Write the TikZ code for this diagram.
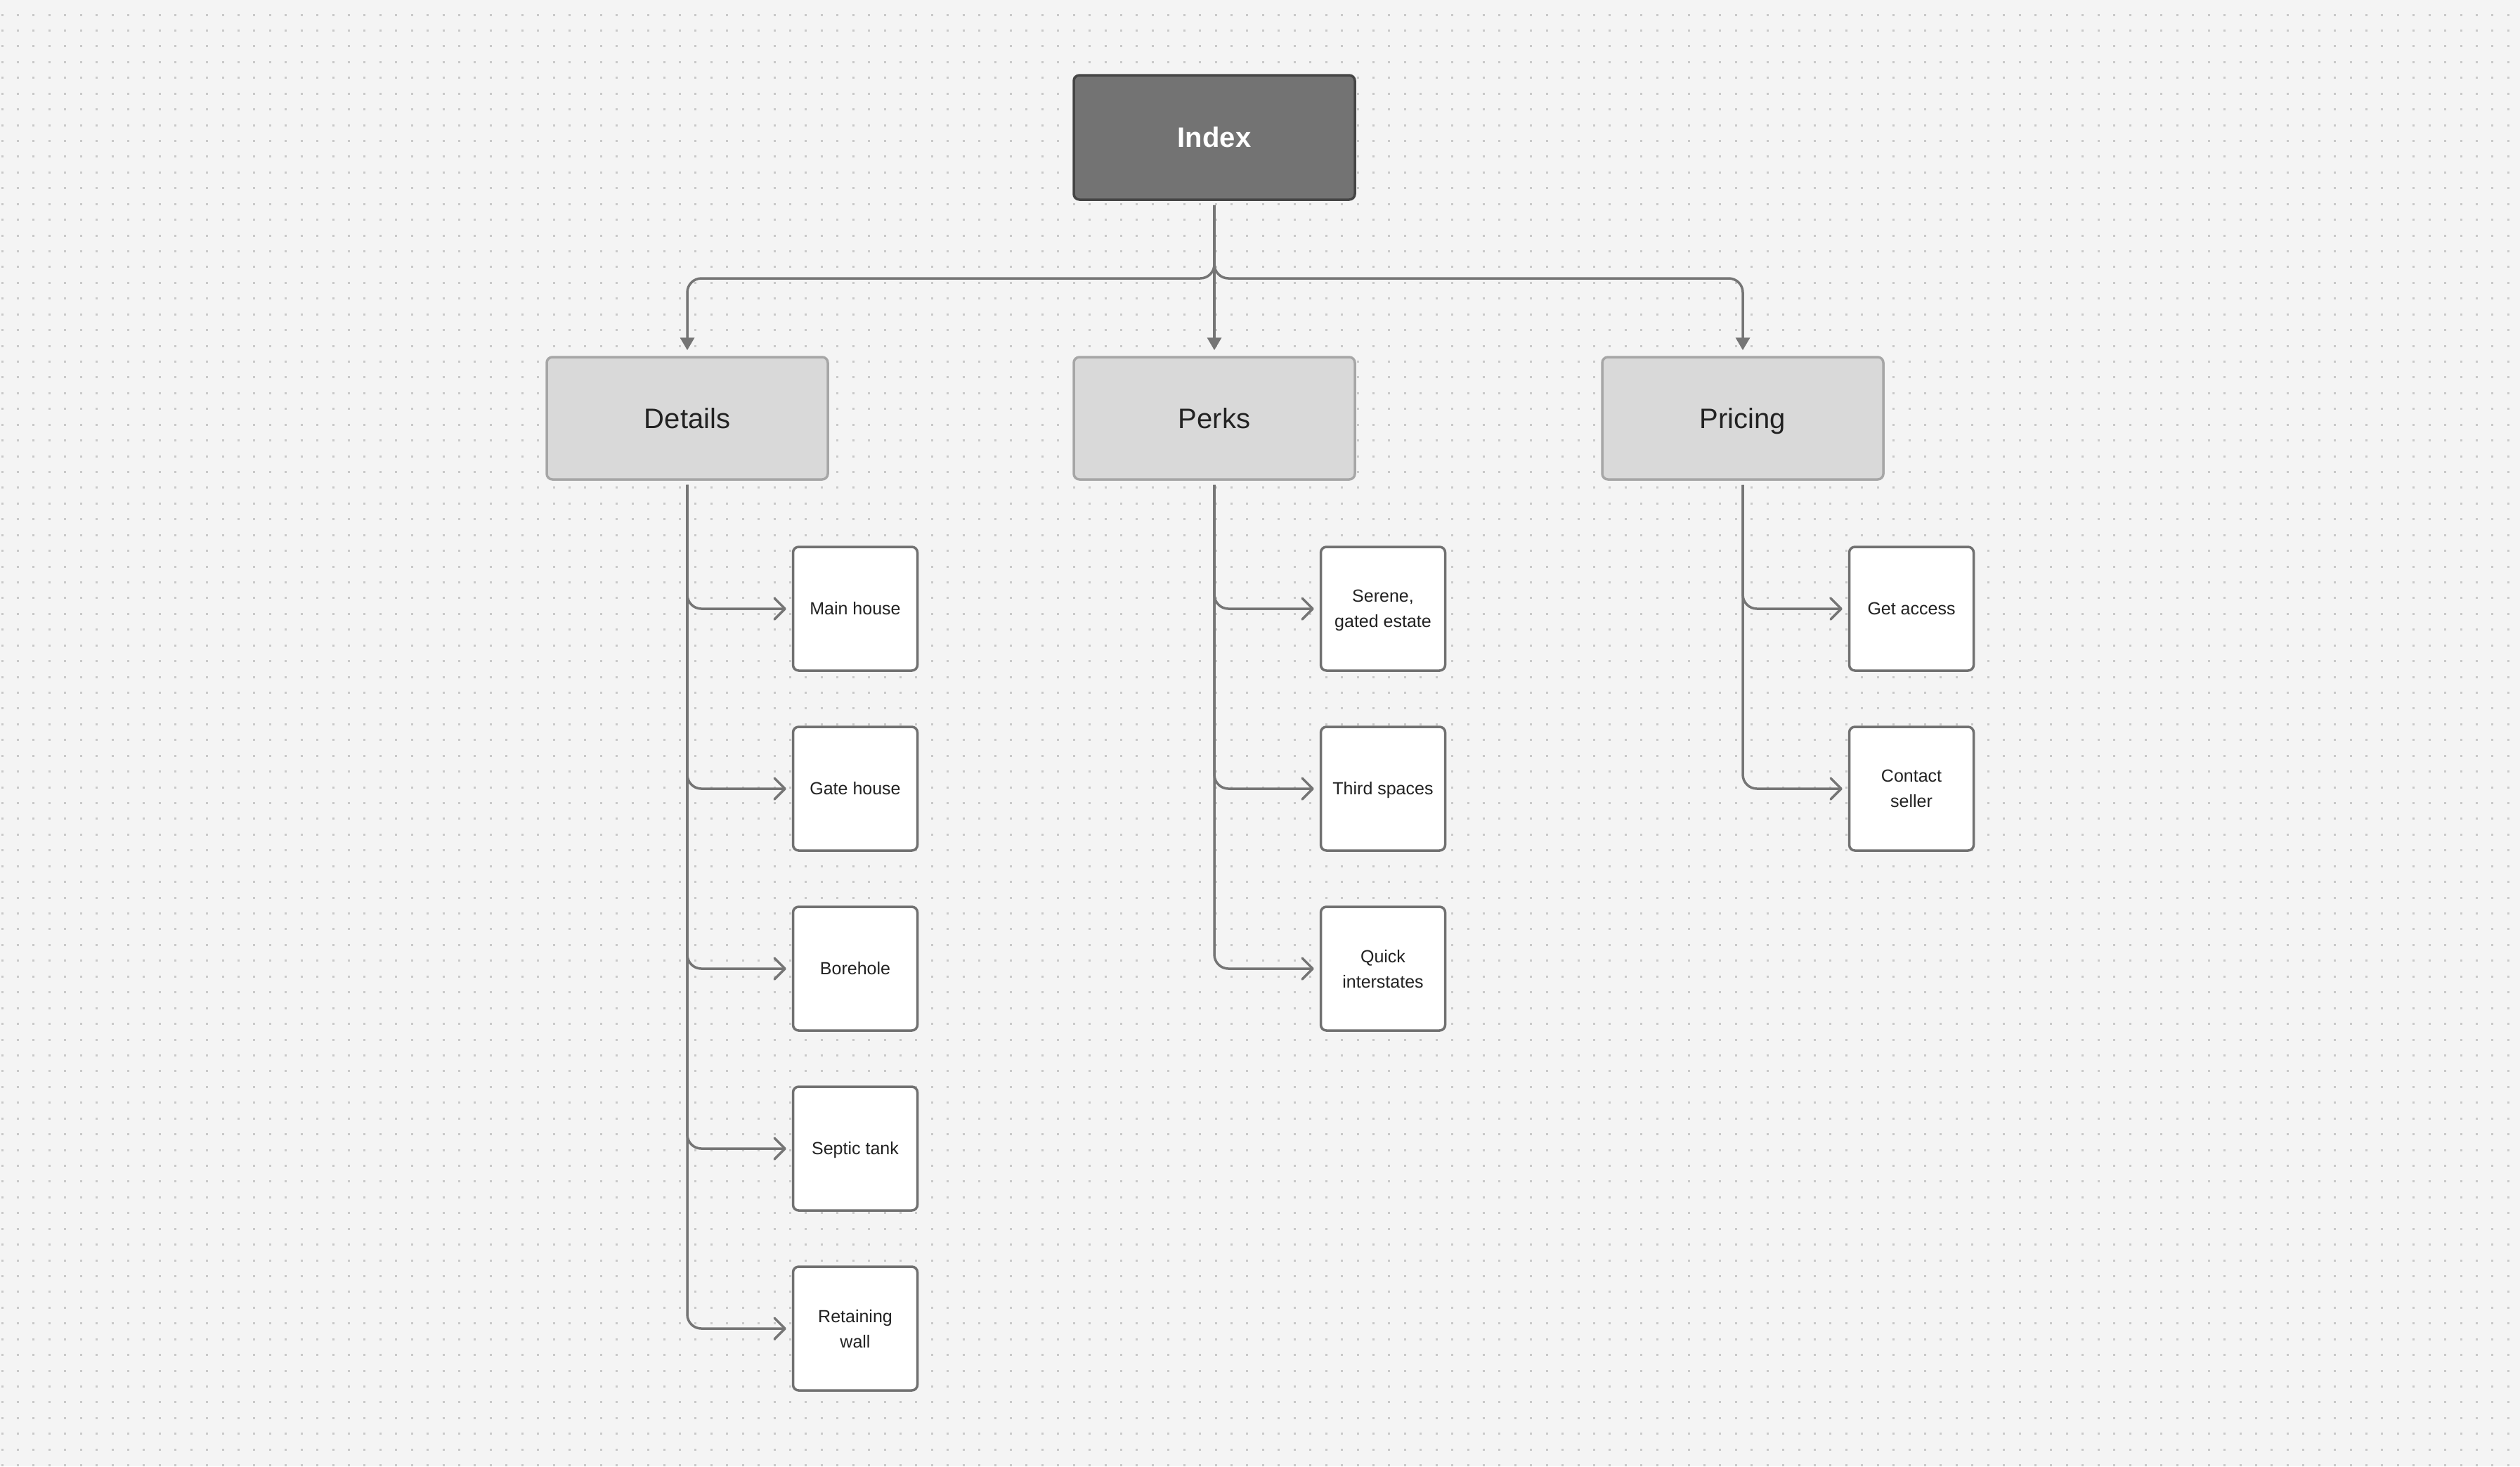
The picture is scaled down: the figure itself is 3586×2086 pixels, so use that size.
\documentclass[tikz,border=0pt]{standalone}
\usepackage{fontspec}
\setmainfont{Liberation Sans}
\usetikzlibrary{arrows.meta}
\definecolor{bgc}{HTML}{F4F4F4}
\definecolor{dotc}{HTML}{C9C9C9}
\definecolor{rootfill}{HTML}{737373}
\definecolor{rootborder}{HTML}{454545}
\definecolor{secfill}{HTML}{D9D9D9}
\definecolor{secborder}{HTML}{A6A6A6}
\definecolor{leafborder}{HTML}{717171}
\definecolor{linec}{HTML}{757575}
\definecolor{textc}{HTML}{222222}
\tikzset{
  rootbox/.style={draw=rootborder, fill=rootfill, line width=3.5pt, rounded corners=8pt,
    minimum width=400pt, minimum height=177pt, inner sep=0pt, text=white,
    text height=28.6pt, text depth=0pt,
    font=\fontsize{40}{48}\selectfont\bfseries},
  secbox/.style={draw=secborder, fill=secfill, line width=3.5pt, rounded corners=8pt,
    minimum width=400pt, minimum height=174pt, inner sep=0pt, text=textc,
    text height=28.6pt, text depth=0pt,
    font=\fontsize{40}{48}\selectfont},
  leafbox/.style={draw=leafborder, fill=white, line width=3.5pt, rounded corners=8pt,
    minimum width=177pt, minimum height=176pt, inner sep=0pt, text=textc, align=center,
    text depth=0pt, font=\fontsize{25}{36}\selectfont},
  leafone/.style={leafbox, text height=17.9pt},
  conn/.style={draw=linec, line width=3.5pt, rounded corners=20pt},
  toparrow/.style={conn, -{Triangle[width=20pt,length=18pt]}, shorten >=8pt, shorten <=6pt},
  leafarrow/.style={conn, -{Straight Barb[width=30pt,length=15pt,line join=round,line cap=round]},
    shorten >=8pt, shorten <=6pt},
}
\begin{document}
\begin{tikzpicture}[x=1pt,y=-1pt]
\fill[bgc] (0,0) rectangle (3586,2086);
\useasboundingbox (0,0) rectangle (3586,2086);
\foreach \r in {0,...,93}{
  \draw[dotc, line width=3pt, dash pattern=on 3pt off 19.43pt] (1.5,{\r*22.43-1.4}) -- (3586,{\r*22.43-1.4});
}
% nodes
\node[rootbox] (index) at (1728,195.5) {Index};
\node[secbox] (details) at (978,595) {Details};
\node[secbox] (perks) at (1728,595) {Perks};
\node[secbox] (pricing) at (2480,595) {Pricing};

\node[leafone] (mainhouse) at (1217,866) {Main house};
\node[leafone] (gatehouse) at (1217,1122) {Gate house};
\node[leafone] (borehole) at (1217,1378) {Borehole};
\node[leafone] (septic) at (1217,1634) {Septic tank};
\node[leafbox] (retaining) at (1217,1890) {Retaining\\wall};

\node[leafbox] (serene) at (1968,866) {Serene,\\gated estate};
\node[leafone] (third) at (1968,1122) {Third spaces};
\node[leafbox] (quick) at (1968,1378) {Quick\\interstates};

\node[leafone] (access) at (2720,866) {Get access};
\node[leafbox] (contact) at (2720,1122) {Contact\\seller};

\coordinate (jn) at (1728,396);
% top connectors
\draw[toparrow] (index.south) -- (jn) -| (details.north);
\draw[toparrow] (index.south) -- (perks.north);
\draw[toparrow] (index.south) -- (jn) -| (pricing.north);
% leaf connectors
\foreach \c in {mainhouse,gatehouse,borehole,septic,retaining}
  \draw[leafarrow] (details.south) |- (\c.west);
\foreach \c in {serene,third,quick}
  \draw[leafarrow] (perks.south) |- (\c.west);
\foreach \c in {access,contact}
  \draw[leafarrow] (pricing.south) |- (\c.west);
\end{tikzpicture}
\end{document}
